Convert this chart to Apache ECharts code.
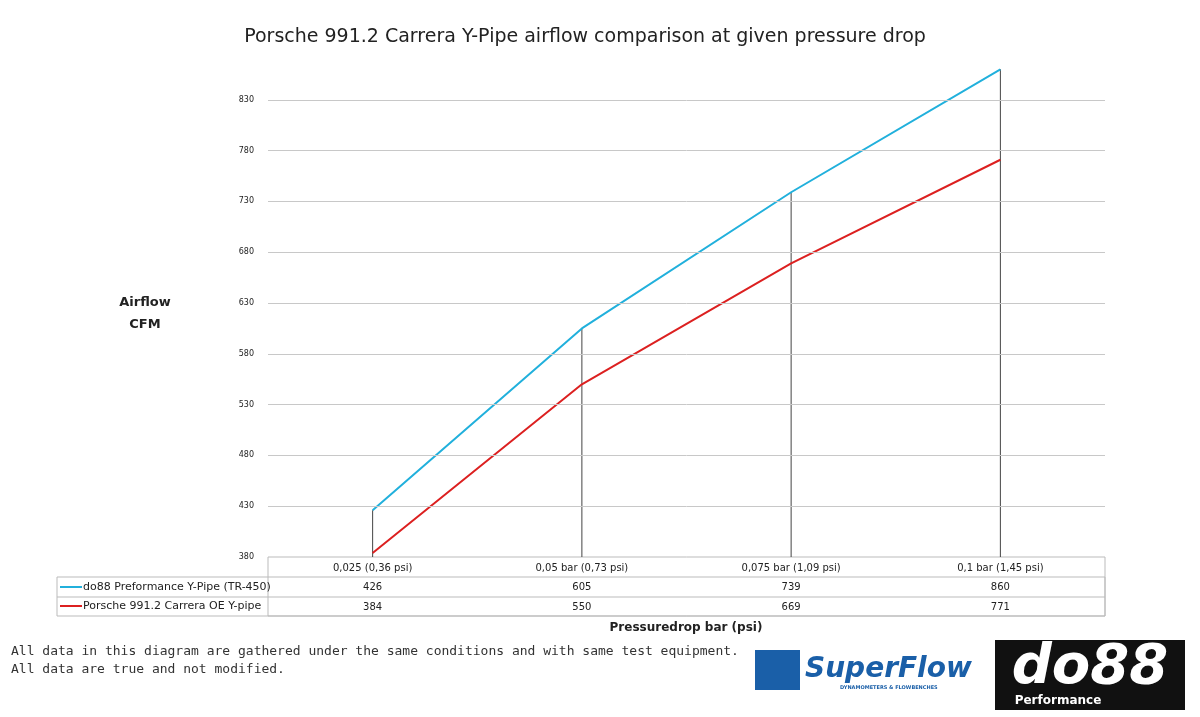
<!DOCTYPE html><html><head><meta charset="utf-8"><script src="https://cdn.jsdelivr.net/npm/echarts@6/dist/echarts.min.js"></script>
<style>html,body{margin:0;background:#fff}#c{width:1200px;height:717px}</style></head><body><div id="c"></div><script>
const categories=['0,025 (0,36 psi)','0,05 bar (0,73 psi)','0,075 bar (1,09 psi)','0,1 bar (1,45 psi)'];
const do88=[426,605,739,860];
const oe=[384,550,669,771];
const seriesNames=['do88 Preformance Y-Pipe (TR-450)','Porsche 991.2 Carrera OE Y-pipe'];
const gridTicks=[430,480,530,580,630,680,730,780,830];
const F='DejaVu Sans';
const chart=echarts.init(document.getElementById('c'));
const L=268,R=1105,T=49,B=557;
const axBase={type:'category',boundaryGap:true,axisLine:{show:false},axisTick:{show:false},position:'bottom'};
chart.setOption({
 animation:false,
 title:{text:'Porsche 991.2 Carrera Y-Pipe airflow comparison at given pressure drop',left:580,top:23,textAlign:'center',textStyle:{fontFamily:F,fontWeight:'normal',fontSize:19,color:'#222'}},
 grid:{left:L,right:1200-R,top:T,bottom:717-B},
 xAxis:[
  Object.assign({},axBase,{data:categories,axisLabel:{fontFamily:F,fontSize:10,color:'#222',margin:6}}),
  Object.assign({},axBase,{data:do88.map(String),offset:19,axisLabel:{fontFamily:F,fontSize:10,color:'#222',margin:6}}),
  Object.assign({},axBase,{data:oe.map(String),offset:39,axisLabel:{fontFamily:F,fontSize:10,color:'#222',margin:6}})
 ],
 yAxis:{type:'value',min:380,max:880,interval:50,axisLine:{show:false},axisTick:{show:false},splitLine:{show:false},
  axisLabel:{fontFamily:F,fontSize:8,color:'#222',margin:14,showMaxLabel:false}},
 series:[
  {type:'bar',data:do88,barWidth:1,itemStyle:{color:'#444'},silent:true,z:1,
   markLine:{silent:true,symbol:'none',label:{show:false},lineStyle:{color:'#c8c8c8',type:'solid',width:1},data:gridTicks.map(v=>({yAxis:v}))}},
  {type:'line',name:seriesNames[0],data:do88,symbol:'none',lineStyle:{color:'#21b0dc',width:2},z:3},
  {type:'line',name:seriesNames[1],data:oe,symbol:'none',lineStyle:{color:'#dc2020',width:2},z:3}
 ],
 graphic:[
  {type:'rect',shape:{x:L,y:B,width:R-L,height:59},style:{fill:'none',stroke:'#bbb',lineWidth:1}},
  {type:'rect',shape:{x:57,y:577,width:R-57,height:39},style:{fill:'none',stroke:'#bbb',lineWidth:1}},
  {type:'line',shape:{x1:57,y1:597,x2:R,y2:597},style:{stroke:'#bbb',lineWidth:1}},
  {type:'line',shape:{x1:60,y1:587,x2:82,y2:587},style:{stroke:'#21b0dc',lineWidth:2}},
  {type:'line',shape:{x1:60,y1:606,x2:82,y2:606},style:{stroke:'#dc2020',lineWidth:2}},
  {type:'text',x:83,y:587,style:{text:seriesNames[0],font:'11px '+F,fill:'#222',verticalAlign:'middle'}},
  {type:'text',x:83,y:606,style:{text:seriesNames[1],font:'11px '+F,fill:'#222',verticalAlign:'middle'}},
  {type:'text',x:145,y:314,style:{text:'Airflow\nCFM',font:'bold 13px '+F,fill:'#222',align:'center',verticalAlign:'middle',lineHeight:22}},
  {type:'text',x:686,y:628,style:{text:'Pressuredrop bar (psi)',font:'bold 12px '+F,fill:'#222',align:'center',verticalAlign:'middle'}},
  {type:'text',x:11,y:661,style:{text:'All data in this diagram are gathered under the same conditions and with same test equipment.\nAll data are true and not modified.',font:'13px "DejaVu Sans Mono"',fill:'#333',verticalAlign:'middle',lineHeight:18}},
  {type:'text',x:805,y:670,style:{text:'SuperFlow',font:'italic bold 28px '+F,fill:'#1a5fa8',verticalAlign:'middle'}},
  {type:'text',x:840,y:685,style:{text:'DYNAMOMETERS & FLOWBENCHES',font:'bold 5px '+F,fill:'#1a5fa8'}},
  {type:'rect',shape:{x:755,y:650,width:45,height:40},style:{fill:'#1a5fa8'}},
  {type:'rect',shape:{x:995,y:640,width:190,height:70},style:{fill:'#111'}},
  {type:'text',x:1090,y:668,style:{text:'do88',font:'italic bold 56px '+F,fill:'#fff',align:'center',verticalAlign:'middle'}},
  {type:'text',x:1058,y:701,style:{text:'Performance',font:'bold 12px '+F,fill:'#fff',align:'center',verticalAlign:'middle'}}
 ]
});
</script></body></html>
